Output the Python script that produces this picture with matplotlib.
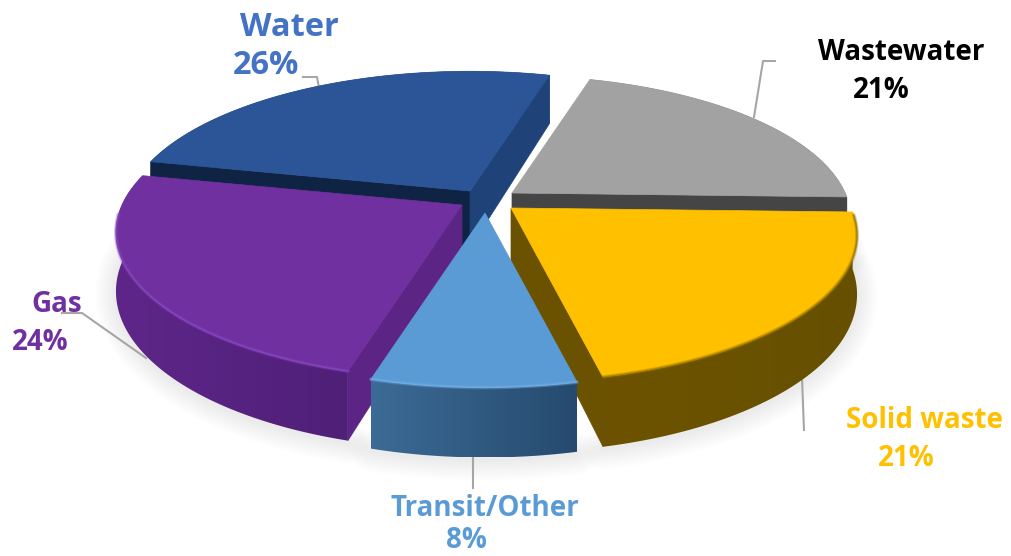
import numpy as np
import matplotlib
matplotlib.use('Agg')
import matplotlib.pyplot as plt
from matplotlib.patches import Polygon
from matplotlib.colors import to_rgb

# data
categories = ['Wastewater', 'Solid waste', 'Transit/Other', 'Gas', 'Water']
shares = [21, 21, 8, 24, 26]
share_labels = ['21%', '21%', '8%', '24%', '26%']

# look of each slice, same order as categories
tips = [(512, 193), (511, 208), (485, 213), (462, 205), (470, 191)]
radius_scale = [0.98, 1.0, 1.0, 1.0, 1.0]
top_colors = ['#a2a2a2', '#ffc000', '#5b9bd5', '#7030a0', '#2c5597']
wall_left = ['#454545', '#6d5300', '#3b6b96', '#5e2689', '#0f2344']
wall_right = ['#454545', '#665000', '#264a6e', '#4f2078', '#0f2344']
rim_colors = ['#a2a2a2', '#8a6a00', '#74b0e6', '#8a48c4', '#2c5597']
start_face = [None, None, None, '#5c2484', '#0f2344']
end_face = ['#454545', '#6b5200', None, None, '#1f4279']
label_colors = ['black', '#ffc000', '#5b9bd5', '#7030a0', '#4472c4']
draw_order = [4, 0, 3, 1, 2]

start_angle = 74.0
R = 340
Ry = 142
k = 0.186
D = 57


def project(tip, ang, scale=1.0):
    a = np.radians(ang)
    u, v = np.cos(a), np.sin(a)
    w = 1 + k * v
    return tip[0] + scale * R * u / w, tip[1] - scale * Ry * v / w, D / w


fig = plt.figure(figsize=(10.11, 5.56), dpi=100)
ax = fig.add_axes([0, 0, 1, 1])

bounds = start_angle - np.cumsum([0] + shares) * 3.6

# soft shadow under the pie
for i in range(len(shares)):
    angs = np.linspace(bounds[i], bounds[i + 1], 60)
    x, y, d = project(tips[i], angs, radius_scale[i])
    front = np.sin(np.radians(angs)) < 0.1
    for lw in range(3, 33, 3):
        ax.plot(x[front], (y + d)[front] + 2, color='#808080', lw=lw, alpha=0.012,
                solid_capstyle='round', zorder=1)

# leader lines
leaders = [([303, 317, 319], [77, 77, 88]),
           ([775, 763, 754], [61, 61, 117]),
           ([802, 804], [378, 430]),
           ([62, 82, 146], [313, 313, 358]),
           ([473, 473], [458, 488])]
for lx, ly in leaders:
    ax.plot(lx, ly, color='#a6a6a6', lw=1.5, zorder=2)

# slices back to front
for n, i in enumerate(draw_order):
    z = 3 + n
    tip = tips[i]
    a0, a1 = bounds[i], bounds[i + 1]
    angs = np.linspace(a0, a1, 120)
    x, y, d = project(tip, angs, radius_scale[i])

    # outer wall with a left to right shade
    c0 = np.array(to_rgb(wall_left[i]))
    c1 = np.array(to_rgb(wall_right[i]))
    shade = c0 + (c1 - c0) * np.linspace(0, 1, 256)[:, None]
    wall = Polygon(np.c_[np.r_[x, x[::-1]], np.r_[y, (y + d)[::-1]]], closed=True,
                   facecolor='none', edgecolor='none', zorder=z)
    ax.add_patch(wall)
    im = ax.imshow(shade[None, :, :], extent=(x.min(), x.max(), (y + d).max(), y.min()),
                   aspect='auto', zorder=z)
    im.set_clip_path(wall)

    # flat cut faces
    for face, ang in ((start_face[i], a0), (end_face[i], a1)):
        if face is None:
            continue
        ex, ey, ed = project(tip, ang, radius_scale[i])
        ax.fill([tip[0], ex, ex, tip[0]], [tip[1], ey, ey + ed, tip[1] + D],
                color=face, lw=0.5, zorder=z)

    # top of the slice
    ax.fill(np.r_[tip[0], x], np.r_[tip[1], y], color=top_colors[i], lw=0.5, zorder=z)

    # soft rim on the front edge
    front = np.sin(np.radians(angs)) < -0.05
    for lw, alpha in ((3, 0.2), (2, 0.3), (1, 0.5)):
        ax.plot(x[front], y[front], color=rim_colors[i], lw=lw, alpha=alpha,
                solid_capstyle='round', zorder=z)

ax.set_xlim(0, 1011)
ax.set_ylim(556, 0)
ax.axis('off')

# labels, name then share
name_pos = [(901, 53), (925, 421), (485, 509), (57, 305), (289, 28)]
share_pos = [(881, 90), (906, 458), (466, 541), (40, 342), (266, 66)]
sizes = [20, 20, 20, 20, 23.5]
for i in range(len(categories)):
    ax.text(*name_pos[i], categories[i], color=label_colors[i], fontsize=sizes[i],
            fontweight='bold', family='Open Sans', ha='center', va='center')
    ax.text(*share_pos[i], share_labels[i], color=label_colors[i], fontsize=sizes[i],
            fontweight='bold', family='Open Sans', ha='center', va='center')

fig.savefig('out.png', dpi=100)
